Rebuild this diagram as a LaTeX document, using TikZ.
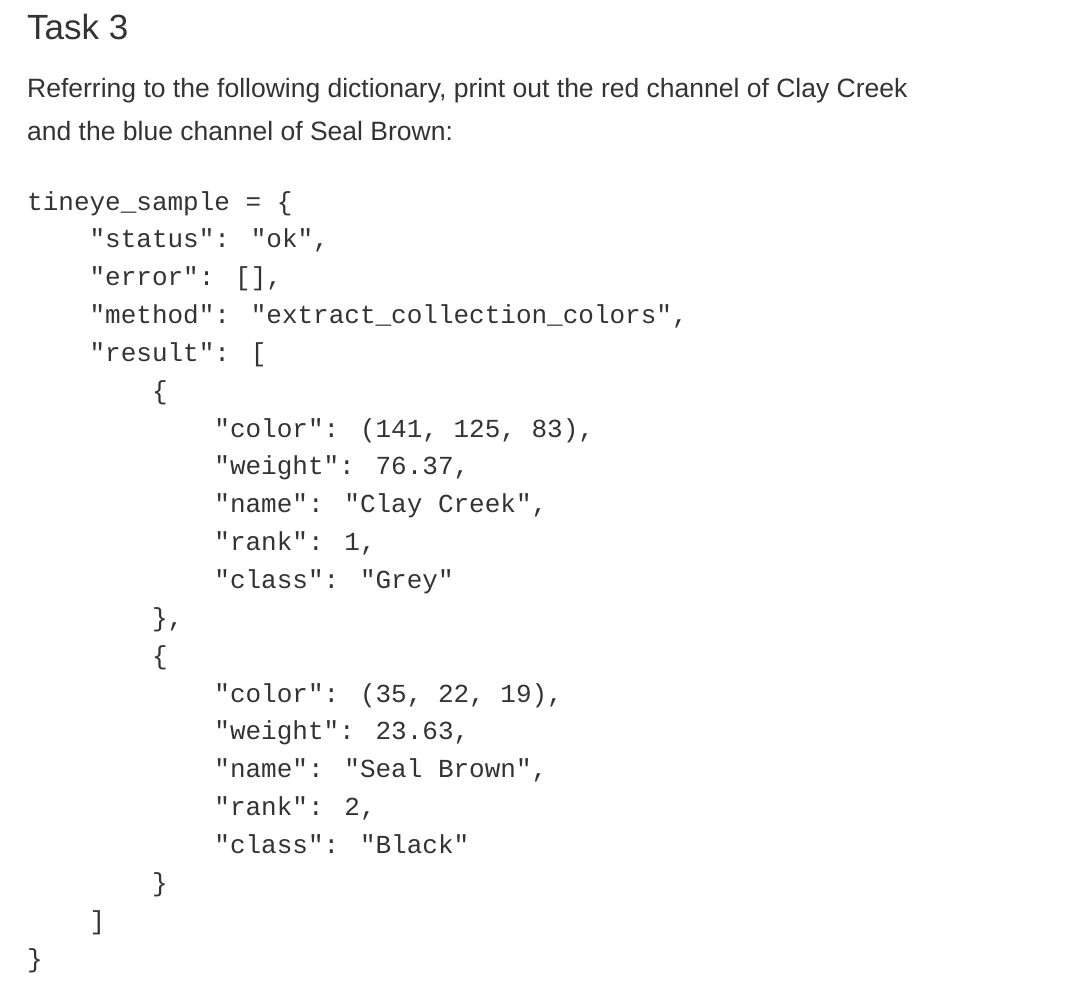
\documentclass[tikz,border=0pt]{standalone}
\usepackage{fontspec}
\setmainfont{Liberation Sans}
\newfontfamily\codefont{Liberation Mono}
\definecolor{txt}{HTML}{333333}
\tikzset{codeline/.style={anchor=base west,inner sep=0pt,text=txt,font=\codefont\fontsize{26}{30}\selectfont},
 para/.style={anchor=base west,inner sep=0pt,text=txt,font=\fontsize{26.5}{30}\selectfont}}
\begin{document}
\begin{tikzpicture}[x=1pt,y=-1pt]
\useasboundingbox (0,0) rectangle (1086,1002);
\node[anchor=base west,inner sep=0pt,text=txt,font=\fontsize{35}{40}\selectfont] (title) at (27,39) {Task 3};
\node[para] (p1) at (27,97) {Referring to the following dictionary, print out the red channel of Clay Creek};
\node[para] (p2) at (27,140) {and the blue channel of Seal Brown:};
\def\cw{15.6}
\foreach \n/\ind/\t in {
0/0/{tineye\_sample = \{},
1/4/{"status": "ok",},
2/4/{"error": [],},
3/4/{"method": "extract\_collection\_colors",},
4/4/{"result": [},
5/8/{\{},
6/12/{"color": (141, 125, 83),},
7/12/{"weight": 76.37,},
8/12/{"name": "Clay Creek",},
9/12/{"rank": 1,},
10/12/{"class": "Grey"},
11/8/{\},},
12/8/{\{},
13/12/{"color": (35, 22, 19),},
14/12/{"weight": 23.63,},
15/12/{"name": "Seal Brown",},
16/12/{"rank": 2,},
17/12/{"class": "Black"},
18/8/{\}},
19/4/{]},
20/0/{\}}}
  \node[codeline] (c\n) at ({27+\cw*\ind},{210+37.85*\n}) {\t};
\end{tikzpicture}
\end{document}
